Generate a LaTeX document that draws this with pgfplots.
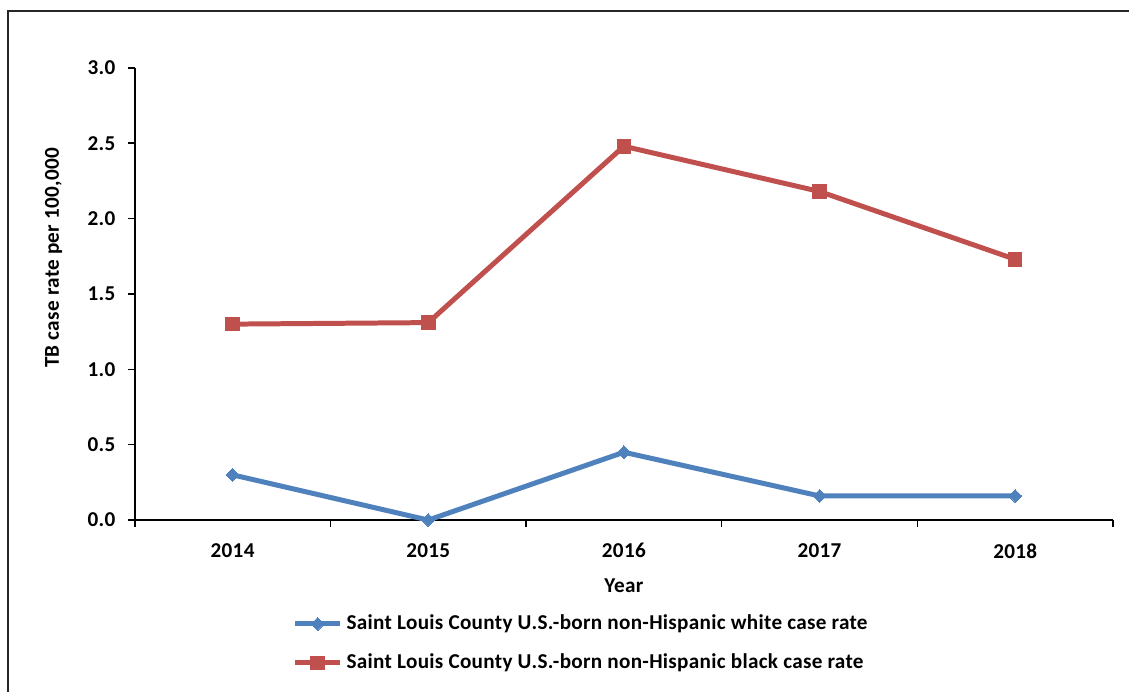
\documentclass[border=0pt]{standalone}
\usepackage{pgfplots}
\pgfplotsset{compat=1.18}
\usepackage{fontspec}
\setmainfont{Carlito}[LetterSpace=1.5]
\definecolor{exblue}{HTML}{4F81BD}
\definecolor{exred}{HTML}{C0504D}
\begin{document}
\fontsize{10.6}{12.6}\selectfont\bfseries
\begin{tikzpicture}
\begin{axis}[
  name=ax,
  scale only axis,
  width=490pt, height=226.5pt,
  xmin=-0.5, xmax=4.5, ymin=0, ymax=3,
  axis x line*=bottom, axis y line*=left,
  axis line style={line width=0.75pt, black},
  tick align=outside,
  xtick={0,1,2,3,4},
  xticklabels={2014,2015,2016,2017,2018},
  minor xtick={-0.5,0.5,1.5,2.5,3.5,4.5},
  major x tick style={draw=none},
  minor tick length=3.5pt,
  major tick length=3.5pt,
  tick style={line width=0.75pt, black},
  ytick={0,0.5,...,3},
  /pgf/number format/fixed,
  /pgf/number format/fixed zerofill,
  /pgf/number format/precision=1,
  /pgf/number format/assume math mode=true,
  ticklabel style={font=\bfseries},
  yticklabel style={xshift=-2.5pt},
  xticklabel style={yshift=-4.5pt},
  xlabel={Year},
  xlabel style={font=\bfseries, yshift=-3pt},
  ylabel={TB case rate per 100,000},
  ylabel style={font=\bfseries, at={(axis description cs:-0.083,0.58)}, anchor=center, rotate=0},
  legend style={draw=none, fill=none, at={(0.161,-0.2)}, anchor=north west,
    font=\bfseries, row sep=6.5pt, inner sep=0pt},
  legend cell align=left,
  legend image code/.code={\draw[#1, mark repeat=2, mark phase=2] plot coordinates {(0pt,0pt) (11.25pt,0pt) (22.5pt,0pt)};},
]
\addplot[exblue, line width=2.5pt, mark=square*, mark size=2.3pt, mark options={rotate=45, solid, line width=0pt}]
  coordinates {(0,0.30) (1,0.0) (2,0.45) (3,0.16) (4,0.16)};
\addlegendentry{Saint Louis County U.S.-born non-Hispanic white case rate}
\addplot[exred, line width=2.5pt, mark=square*, mark size=3.4pt, mark options={solid, line width=0pt}]
  coordinates {(0,1.30) (1,1.31) (2,2.48) (3,2.18) (4,1.73)};
\addlegendentry{Saint Louis County U.S.-born non-Hispanic black case rate}
\end{axis}
\pgfresetboundingbox
\path ([shift={(-67.5pt,-85.5pt)}]ax.south west) rectangle ([shift={(497.5pt,260.5pt)}]ax.south west);
\draw[line width=1pt, black!85] ([shift={(-63.5pt,-86pt)}]ax.south west) -- ([shift={(-63.5pt,255pt)}]ax.south west) -- ([shift={(498pt,255pt)}]ax.south west);
\end{tikzpicture}
\end{document}
